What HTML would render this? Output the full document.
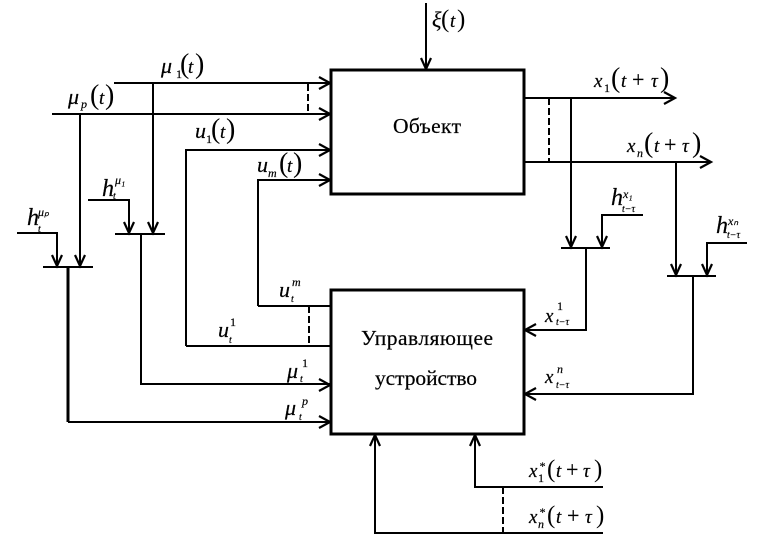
<!DOCTYPE html>
<html><head><meta charset="utf-8"><style>
html,body{margin:0;padding:0;background:#fff}
svg{display:block}
text{font-family:"Liberation Serif",serif;fill:#000;font-style:italic;stroke:#000;stroke-width:.2}
.r{font-style:normal;font-size:21.5px}
.v{font-size:22px}.p{font-size:28px;font-style:normal;stroke-width:0}.t{font-size:19px}
.n{font-size:22px;font-style:normal}.s{font-size:12px}.u{font-size:12px;font-style:normal}.x{font-size:10px}.h{font-size:24px}
.q{font-size:25px;font-style:normal;stroke-width:0}
</style></head><body>
<svg width="763" height="540" viewBox="0 0 763 540" xmlns="http://www.w3.org/2000/svg">
<rect width="763" height="540" fill="#fff"/>
<g fill="none" stroke="#000" stroke-width="2" shape-rendering="crispEdges">
<path d="M114 83H330M52 114H330M186 346V150H330M258 306V180H330"/>
<path d="M153 83V233M80 114V266M88 200H129V233M17 233H57V266M115 234H165M43 267H93M141 234V384H330"/>
<path d="M186 346H330M258 306H330"/>
<path d="M525 98H675M525 162H711M571 98V247M676 162V275M561 248H610M667 276H716M643 215H602V247M747 243H707V275"/>
<path d="M586 248V330H525M693 276V394H525"/>
<path d="M375 434V533H603M475 434V487H603M426 3V69"/>
<path d="M308 84V114M309 306V346M549 98V162M503 487V533" stroke-dasharray="7 3"/>
<path d="M68 267V422" stroke-width="3"/>
<path d="M68 422H330"/>
<path d="M331 70H524V194H331ZM331 290H524V434H331Z" stroke-width="3"/>
</g>
<g fill="none" stroke="#000" stroke-width="2.2">
<path d="M319 77L330 83L319 89M319 108L330 114L319 120M319 144L330 150L319 156M319 174L330 180L319 186M319 379L330 385L319 391M319 416L330 422L319 428"/>
<path d="M124 222L129 233L134 222M148 222L153 233L158 222M52 255L57 266L62 255M75 255L80 266L85 255"/>
<path d="M421 58L426 69L431 58M664 92L675 98L664 104M700 156L711 162L700 168"/>
<path d="M566 236L571 247L576 236M597 236L602 247L607 236M671 264L676 275L681 264M702 264L707 275L712 264"/>
<path d="M536 324L525 330L536 336M536 388L525 394L536 400M370 446L375 435L380 446M470 446L475 435L480 446"/>
</g>
<text class="r" x="393" y="133" textLength="68">Объект</text>
<text class="r" x="361" y="345" textLength="132">Управляющее</text>
<text class="r" x="375" y="385" textLength="102">устройство</text>

<text class="v" x="432" y="27">ξ</text><text class="q" x="441" y="27">(</text><text class="t" x="450" y="27">t</text><text class="q" x="457" y="27">)</text>

<text class="v" x="161" y="73">μ</text><text class="u" x="176" y="78">1</text><text class="p" x="180" y="73">(</text><text class="t" x="188" y="73">t</text><text class="p" x="195" y="73">)</text>
<text class="v" x="68" y="104">μ</text><text class="s" x="81" y="108">p</text><text class="p" x="90" y="104">(</text><text class="t" x="99" y="104">t</text><text class="p" x="105" y="104">)</text>
<text class="v" x="195" y="138">u</text><text class="u" x="206" y="143">1</text><text class="p" x="211" y="138">(</text><text class="t" x="220" y="138">t</text><text class="p" x="226" y="138">)</text>
<text class="v" x="257" y="172">u</text><text class="s" x="268" y="177">m</text><text class="p" x="279" y="172">(</text><text class="t" x="287" y="172">t</text><text class="p" x="293" y="172">)</text>

<text class="h" x="102" y="196">h</text><text class="s" x="115" y="184">μ₁</text><text class="x" x="113" y="199">t</text>
<text class="h" x="27" y="225">h</text><text class="s" x="38" y="216">μₚ</text><text class="x" x="38" y="232">t</text>

<text class="v" x="279" y="297">u</text><text class="s" x="292" y="286">m</text><text class="x" x="291" y="302">t</text>
<text class="v" x="218" y="337">u</text><text class="u" x="230" y="326">1</text><text class="x" x="229" y="343">t</text>
<text class="v" x="287" y="378">μ</text><text class="u" x="302" y="367">1</text><text class="x" x="300" y="382">t</text>
<text class="v" x="285" y="415">μ</text><text class="s" x="302" y="405">p</text><text class="x" x="299" y="420">t</text>

<text class="t" x="594" y="87">x</text><text class="u" x="604" y="92">1</text><text class="p" x="611" y="87">(</text><text class="t" x="621" y="87">t</text><text class="n" x="632" y="87">+</text><text class="t" x="651" y="87">τ</text><text class="p" x="660" y="87">)</text>
<text class="t" x="627" y="152">x</text><text class="s" x="637" y="157">n</text><text class="p" x="644" y="152">(</text><text class="t" x="654" y="152">t</text><text class="n" x="664" y="152">+</text><text class="t" x="682" y="152">τ</text><text class="p" x="692" y="152">)</text>

<text class="h" x="611" y="205">h</text><text class="s" x="623" y="198">x₁</text><text class="x" x="622" y="212">t−τ</text>
<text class="h" x="716" y="233">h</text><text class="s" x="728" y="225">xₙ</text><text class="x" x="727" y="238">t−τ</text>

<text class="t" x="545" y="322">x</text><text class="u" x="557" y="310">1</text><text class="x" x="556" y="325">t−τ</text>
<text class="t" x="545" y="383">x</text><text class="s" x="557" y="373">n</text><text class="x" x="556" y="388">t−τ</text>

<text class="t" x="529" y="477">x</text><text class="s" x="539" y="470">*</text><text class="u" x="538" y="482">1</text><text class="q" x="547" y="477">(</text><text class="t" x="556" y="477">t</text><text class="n" x="566" y="477">+</text><text class="t" x="583" y="477">τ</text><text class="q" x="594" y="477">)</text>
<text class="t" x="529" y="523">x</text><text class="s" x="539" y="516">*</text><text class="s" x="538" y="528">n</text><text class="q" x="547" y="523">(</text><text class="t" x="556" y="523">t</text><text class="n" x="567" y="523">+</text><text class="t" x="585" y="523">τ</text><text class="q" x="596" y="523">)</text>
</svg>
</body></html>
